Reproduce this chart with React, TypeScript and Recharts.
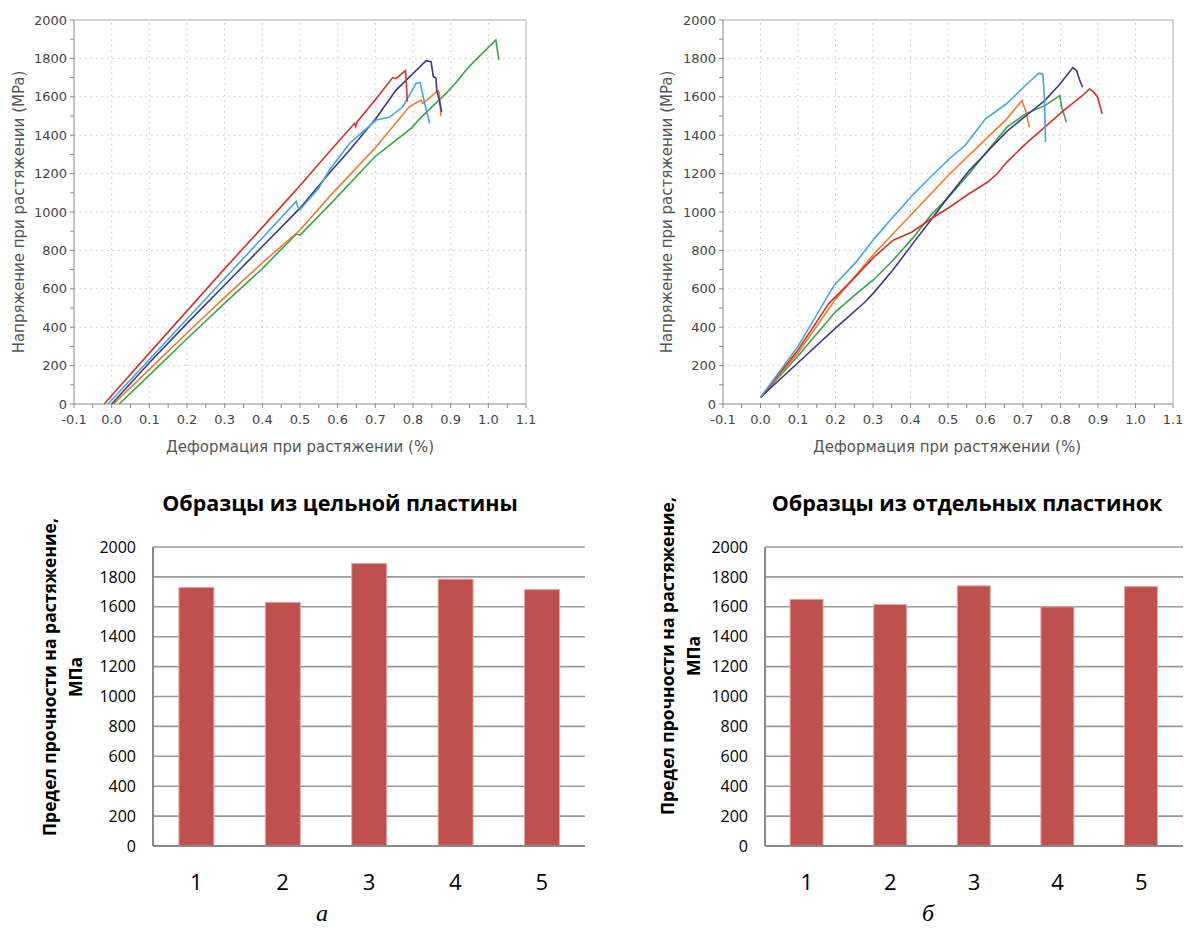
import React from 'react';
import {
    LineChart,
    Line,
    XAxis,
    YAxis,
    ReferenceLine,
    BarChart,
    Bar,
    CartesianGrid,
} from 'recharts';

// strain (%) / stress (MPa) pairs
const solid1: [number, number][] = [[-0.02, 0], [0.1, 265], [0.2, 485], [0.3, 705], [0.4, 920], [0.485, 1105], [0.51, 1160], [0.578, 1314], [0.645, 1462], [0.648, 1445], [0.652, 1470], [0.7, 1585], [0.746, 1700], [0.755, 1695], [0.765, 1712], [0.78, 1736], [0.783, 1650], [0.785, 1575]];
const solid4: [number, number][] = [[0, 0], [0.1, 215], [0.2, 420], [0.3, 620], [0.4, 820], [0.5, 1020], [0.578, 1203], [0.632, 1323], [0.702, 1488], [0.755, 1635], [0.835, 1788], [0.848, 1783], [0.854, 1705], [0.861, 1698], [0.863, 1635], [0.87, 1583], [0.876, 1520]];
const solid5: [number, number][] = [[-0.01, 0], [0.1, 232], [0.2, 443], [0.3, 654], [0.4, 865], [0.49, 1055], [0.495, 1020], [0.5, 1012], [0.55, 1125], [0.578, 1219], [0.632, 1358], [0.702, 1479], [0.737, 1493], [0.773, 1548], [0.808, 1670], [0.819, 1675], [0.83, 1574], [0.844, 1462]];
const solid2: [number, number][] = [[0.005, 0], [0.1, 180], [0.2, 370], [0.3, 555], [0.4, 735], [0.5, 906], [0.578, 1080], [0.7, 1335], [0.79, 1548], [0.821, 1583], [0.826, 1565], [0.835, 1580], [0.866, 1632], [0.87, 1620], [0.874, 1500]];
const solid3: [number, number][] = [[0.02, 0], [0.1, 150], [0.2, 340], [0.3, 525], [0.4, 705], [0.49, 885], [0.5, 880], [0.578, 1036], [0.7, 1290], [0.795, 1436], [0.82, 1490], [0.888, 1618], [0.914, 1674], [0.95, 1760], [1.02, 1896], [1.025, 1830], [1.028, 1792]];

const split1: [number, number][] = [[0, 35], [0.1, 281], [0.182, 523], [0.253, 662], [0.303, 766], [0.354, 853], [0.404, 896], [0.455, 965], [0.505, 1026], [0.556, 1095], [0.606, 1156], [0.631, 1199], [0.657, 1260], [0.707, 1355], [0.758, 1442], [0.808, 1528], [0.859, 1607], [0.877, 1641], [0.889, 1624], [0.899, 1598], [0.911, 1511]];
const split3: [number, number][] = [[0, 35], [0.1, 215], [0.2, 395], [0.278, 530], [0.3, 575], [0.354, 700], [0.404, 830], [0.455, 960], [0.505, 1090], [0.556, 1215], [0.6, 1305], [0.657, 1420], [0.707, 1500], [0.758, 1580], [0.798, 1665], [0.833, 1752], [0.843, 1737], [0.85, 1693], [0.859, 1650]];
const split5: [number, number][] = [[0, 35], [0.1, 300], [0.197, 620], [0.253, 735], [0.303, 860], [0.354, 975], [0.404, 1085], [0.455, 1185], [0.505, 1280], [0.545, 1345], [0.6, 1485], [0.657, 1565], [0.707, 1660], [0.742, 1723], [0.753, 1718], [0.757, 1600], [0.76, 1365]];
const split2: [number, number][] = [[0, 35], [0.1, 265], [0.2, 545], [0.303, 783], [0.404, 991], [0.505, 1199], [0.606, 1390], [0.657, 1485], [0.697, 1580], [0.707, 1528], [0.717, 1442]];
const split4: [number, number][] = [[0, 35], [0.1, 250], [0.2, 480], [0.253, 570], [0.303, 650], [0.354, 750], [0.404, 860], [0.455, 985], [0.505, 1085], [0.556, 1199], [0.606, 1320], [0.657, 1442], [0.707, 1511], [0.758, 1554], [0.798, 1606], [0.803, 1546], [0.816, 1468]];

const strainTicks = [-0.1, -0.05, 0, 0.05, 0.1, 0.15, 0.2, 0.25, 0.3, 0.35, 0.4, 0.45, 0.5, 0.55, 0.6, 0.65, 0.7, 0.75, 0.8, 0.85, 0.9, 0.95, 1.0, 1.05, 1.1];
const stressTicks = [0, 100, 200, 300, 400, 500, 600, 700, 800, 900, 1000, 1100, 1200, 1300, 1400, 1500, 1600, 1700, 1800, 1900, 2000];
const strainGrid = [0, 0.1, 0.2, 0.3, 0.4, 0.5, 0.6, 0.7, 0.8, 0.9, 1.0];
const stressGrid = [200, 400, 600, 800, 1000, 1200, 1400, 1600, 1800];

const samples = ['1', '2', '3', '4', '5'];
const strengthSolid = [1730, 1630, 1890, 1785, 1715];
const strengthSplit = [1650, 1615, 1740, 1600, 1735];
const barTicks = [0, 200, 400, 600, 800, 1000, 1200, 1400, 1600, 1800, 2000];

const COLORS = { red: '#d8322b', navy: '#3b3888', cyan: '#3fa8dc', orange: '#f27a2b', green: '#38a547' };
const TOP_FONT = '"DejaVu Sans", Verdana, sans-serif';
const BAR_FONT = '"Open Sans", sans-serif';

const pts = (arr: [number, number][]) => arr.map(([x, y]) => ({ x, y }));

function StrainChart({ left, width, yAxisWidth, right, series }: {
    left: number; width: number; yAxisWidth: number; right: number;
    series: { data: [number, number][]; color: string }[];
}) {
    return (
        <div style={{ position: 'absolute', left, top: 0 }}>
            <LineChart width={width} height={460} margin={{ top: 20, right, left: 0, bottom: 0 }}>
                <XAxis
                    type="number"
                    dataKey="x"
                    domain={[-0.1, 1.1]}
                    ticks={strainTicks}
                    interval={0}
                    height={56}
                    tickSize={4}
                    tickMargin={7}
                    tickFormatter={(v: number) => (Math.round(v * 100) % 10 === 0 ? v.toFixed(1) : '')}
                    tick={{ fontSize: 13, fill: '#444', fontFamily: TOP_FONT }}
                    axisLine={{ stroke: '#888' }}
                    tickLine={{ stroke: '#888' }}
                    allowDataOverflow
                />
                <YAxis
                    type="number"
                    domain={[0, 2000]}
                    ticks={stressTicks}
                    interval={0}
                    width={yAxisWidth}
                    tickSize={4}
                    tickMargin={3}
                    tickFormatter={(v: number) => (v % 200 === 0 ? String(v) : '')}
                    tick={{ fontSize: 13, fill: '#444', fontFamily: TOP_FONT }}
                    axisLine={{ stroke: '#888' }}
                    tickLine={{ stroke: '#888' }}
                />
                {strainGrid.map((v) => (
                    <ReferenceLine key={'v' + v} x={v} stroke="#c4c4c4" strokeDasharray="1.5 4" />
                ))}
                {stressGrid.map((v) => (
                    <ReferenceLine key={'h' + v} y={v} stroke="#c4c4c4" strokeDasharray="1.5 4" />
                ))}
                <ReferenceLine y={2000} stroke="#aaa" />
                <ReferenceLine x={1.1} stroke="#aaa" />
                {series.map((s, i) => (
                    <Line
                        key={i}
                        data={pts(s.data)}
                        dataKey="y"
                        type="linear"
                        stroke={s.color}
                        strokeWidth={1.6}
                        dot={false}
                        isAnimationActive={false}
                    />
                ))}
            </LineChart>
        </div>
    );
}

function StrengthChart({ left, width, yAxisWidth, right, values }: {
    left: number; width: number; yAxisWidth: number; right: number; values: number[];
}) {
    const data = samples.map((n, i) => ({ n, v: values[i] }));
    return (
        <div style={{ position: 'absolute', left, top: 470 }}>
            <BarChart width={width} height={468} data={data} margin={{ top: 77, right, left: 0, bottom: 0 }} barCategoryGap="30%">
                <CartesianGrid vertical={false} stroke="#999" strokeWidth={1.6} />
                <XAxis
                    dataKey="n"
                    height={92}
                    tickSize={0}
                    tickMargin={28}
                    tick={{ fontSize: 22, fill: '#000', fontFamily: BAR_FONT }}
                    axisLine={{ stroke: '#8a8a8a', strokeWidth: 2 }}
                    tickLine={false}
                />
                <XAxis xAxisId="top" dataKey="n" orientation="top" height={0} tick={false} tickLine={false} axisLine={{ stroke: '#000', strokeWidth: 2 }} />
                <YAxis
                    domain={[0, 2000]}
                    ticks={barTicks}
                    interval={0}
                    width={yAxisWidth}
                    tickSize={0}
                    tickMargin={17}
                    tick={{ fontSize: 16, fill: '#000', fontFamily: BAR_FONT }}
                    axisLine={{ stroke: '#8a8a8a', strokeWidth: 2 }}
                    tickLine={false}
                />
                <YAxis yAxisId="right" orientation="right" domain={[0, 2000]} width={0} tick={false} tickLine={false} axisLine={{ stroke: '#222', strokeWidth: 2 }} />
                <Bar dataKey="v" fill="#c0504d" stroke="#e3a9a7" strokeWidth={1} isAnimationActive={false} />
            </BarChart>
        </div>
    );
}

const textBase: React.CSSProperties = { position: 'absolute', whiteSpace: 'nowrap' };

function Text({ x, y, rotate, style, children }: { x: number; y: number; rotate?: boolean; style: React.CSSProperties; children: React.ReactNode }) {
    return (
        <div style={{ position: 'absolute', left: x, top: y, width: 0, height: 0 }}>
            <div style={{ ...textBase, left: 0, top: 0, transform: `translate(-50%, -50%)${rotate ? ' rotate(-90deg)' : ''}`, ...style }}>
                {children}
            </div>
        </div>
    );
}

const topAxisStyle: React.CSSProperties = { fontFamily: TOP_FONT, fontSize: 15, color: '#555' };
const barTitleStyle: React.CSSProperties = { fontFamily: BAR_FONT, fontSize: 21.5, fontWeight: 700, color: '#000' };
const barAxisStyle: React.CSSProperties = { fontFamily: BAR_FONT, fontSize: 17.5, fontWeight: 700, color: '#000', textAlign: 'center', lineHeight: '26px' };
const letterStyle: React.CSSProperties = { fontFamily: '"Liberation Serif", serif', fontSize: 24, fontStyle: 'italic', color: '#000' };

export default function App() {
    return (
        <div style={{ position: 'absolute', left: 0, top: 0, width: 1184, height: 938, background: '#fff', overflow: 'hidden' }}>
            <StrainChart
                left={0}
                width={540}
                yAxisWidth={74}
                right={14}
                series={[
                    { data: solid3, color: COLORS.green },
                    { data: solid2, color: COLORS.orange },
                    { data: solid4, color: COLORS.navy },
                    { data: solid5, color: COLORS.cyan },
                    { data: solid1, color: COLORS.red },
                ]}
            />
            <StrainChart
                left={640}
                width={544}
                yAxisWidth={83}
                right={11}
                series={[
                    { data: split4, color: COLORS.green },
                    { data: split2, color: COLORS.orange },
                    { data: split3, color: COLORS.navy },
                    { data: split1, color: COLORS.red },
                    { data: split5, color: COLORS.cyan },
                ]}
            />
            <StrengthChart left={0} width={600} yAxisWidth={153} right={15} values={strengthSolid} />
            <StrengthChart left={600} width={584} yAxisWidth={165} right={1} values={strengthSplit} />

            <Text x={19} y={212} rotate style={topAxisStyle}>Напряжение при растяжении (MPa)</Text>
            <Text x={300} y={447} style={topAxisStyle}>Деформация при растяжении (%)</Text>
            <Text x={667} y={212} rotate style={topAxisStyle}>Напряжение при растяжении (MPa)</Text>
            <Text x={947} y={447} style={topAxisStyle}>Деформация при растяжении (%)</Text>

            <Text x={340} y={502} style={barTitleStyle}>Образцы из цельной пластины</Text>
            <Text x={967} y={502} style={barTitleStyle}>Образцы из отдельных пластинок</Text>
            <Text x={62} y={677} rotate style={barAxisStyle}>
                Предел прочности на растяжение,<br />МПа
            </Text>
            <Text x={680} y={656} rotate style={barAxisStyle}>
                Предел прочности на растяжение,<br />МПа
            </Text>

            <Text x={322} y={913} style={letterStyle}>а</Text>
            <Text x={928} y={913} style={letterStyle}>б</Text>
        </div>
    );
}
